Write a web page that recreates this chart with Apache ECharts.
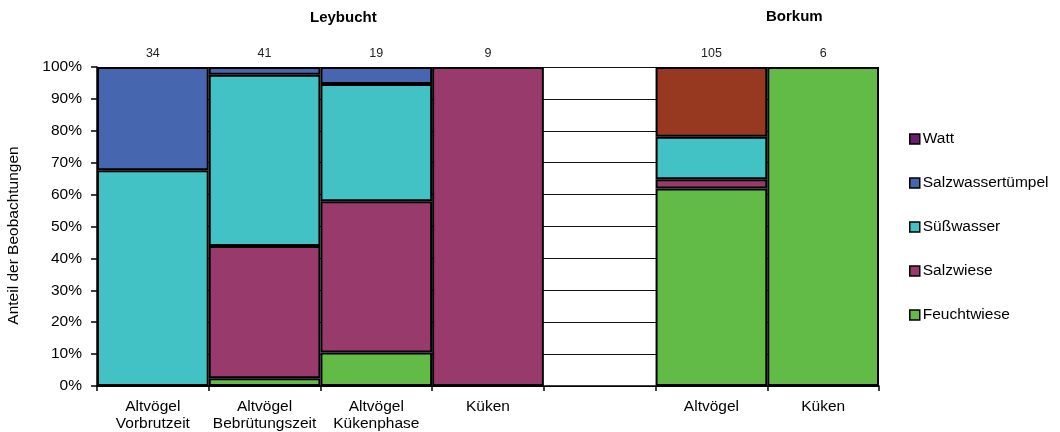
<!DOCTYPE html>
<html>
<head>
<meta charset="utf-8">
<script src="https://cdn.jsdelivr.net/npm/echarts@6/dist/echarts.min.js"></script>
<style>
  html, body { margin: 0; padding: 0; background: #fff; }
  #chart { width: 1060px; height: 432px; }
</style>
</head>
<body>
<div id="chart"></div>
<script>
// Habitat use per group, share of observations (%)
const categories = ['Altvögel\nVorbrutzeit', 'Altvögel\nBebrütungszeit', 'Altvögel\nKükenphase', 'Küken', '', 'Altvögel', 'Küken'];
const sampleSizes = ['34', '41', '19', '9', '', '105', '6'];

const feuchtwiese       = [0,    2.4,  10.5, 0,   0, 61.9, 100];
const salzwiese         = [0,    41.5, 47.4, 100, 0, 2.9,  0];
const suesswasser       = [67.6, 53.7, 36.8, 0,   0, 13.3, 0];
const salzwassertuempel = [32.4, 2.4,  5.3,  0,   0, 0,    0];
const watt              = [0,    0,    0,    0,   0, 21.9, 0];

const yTicks = [0, 10, 20, 30, 40, 50, 60, 70, 80, 90, 100];

const FONT = '"Liberation Sans", Arial, sans-serif';

const seriesDefs = [
  { name: 'Feuchtwiese',       data: feuchtwiese,       color: '#62BB47' },
  { name: 'Salzwiese',         data: salzwiese,         color: '#983A6C' },
  { name: 'Süßwasser',         data: suesswasser,       color: '#42C2C4' },
  { name: 'Salzwassertümpel',  data: salzwassertuempel, color: '#4766B0' },
  { name: 'Watt',              data: watt,              color: '#973820' }
];

const chart = echarts.init(document.getElementById('chart'), null, { renderer: 'canvas' });

chart.setOption({
  animation: false,
  backgroundColor: '#fff',
  textStyle: { fontFamily: FONT },
  grid: { left: 97, right: 181, top: 67, bottom: 46, outerBoundsMode: 'none', containLabel: false },
  graphic: [
    { type: 'text', left: 310, top: 10, style: { text: 'Leybucht', font: 'bold 15px ' + FONT, fill: '#000', textAlign: 'center' } },
    { type: 'text', left: 766, top: 9, style: { text: 'Borkum', font: 'bold 15px ' + FONT, fill: '#000', textAlign: 'center' } }
  ],
  legend: {
    orient: 'vertical',
    left: 909,
    top: 131,
    padding: 0,
    itemWidth: 10,
    itemHeight: 10,
    itemGap: 28,
    icon: 'rect',
    textStyle: { fontFamily: FONT, fontSize: 15.5, lineHeight: 16, color: '#000', padding: [0, 0, 0, -2] },
    itemStyle: { borderColor: '#000', borderWidth: 1.5 },
    data: [
      { name: 'Watt', itemStyle: { color: '#6A1E70' } },
      { name: 'Salzwassertümpel' },
      { name: 'Süßwasser' },
      { name: 'Salzwiese' },
      { name: 'Feuchtwiese' }
    ]
  },
  xAxis: [
    {
      type: 'category',
      data: categories,
      position: 'bottom',
      axisLine: { lineStyle: { color: '#000', width: 1.5 } },
      axisTick: { show: true, length: 5, lineStyle: { color: '#000', width: 1.5 } },
      axisLabel: { fontFamily: FONT, fontSize: 15.5, color: '#000', lineHeight: 17, margin: 12, interval: 0 },
      splitLine: { show: false }
    },
    {
      type: 'category',
      data: sampleSizes,
      position: 'top',
      axisLine: { show: false },
      axisTick: { show: false },
      axisLabel: { fontFamily: FONT, fontSize: 12.5, color: '#222', margin: 7, interval: 0 }
    }
  ],
  yAxis: {
    type: 'value',
    min: yTicks[0],
    max: yTicks[yTicks.length - 1],
    interval: yTicks[1] - yTicks[0],
    name: 'Anteil der Beobachtungen',
    nameLocation: 'middle',
    nameGap: 75,
    nameTextStyle: { fontFamily: FONT, fontSize: 15.5, color: '#000', padding: [0, 18, 0, 0] },
    axisLine: { show: true, lineStyle: { color: '#000', width: 1.5 } },
    axisTick: { show: true, length: 6, lineStyle: { color: '#000', width: 1.5 } },
    axisLabel: { fontFamily: FONT, fontSize: 15.5, color: '#000', margin: 15, formatter: '{value}%' },
    splitLine: { show: true, lineStyle: { color: '#111', width: 1.2 } }
  },
  series: seriesDefs.map(s => ({
    name: s.name,
    type: 'bar',
    stack: 'habitat',
    xAxisIndex: 0,
    barCategoryGap: '0%',
    barGap: '0%',
    itemStyle: { color: s.color, borderColor: '#000', borderWidth: 2 },
    emphasis: { disabled: true },
    data: s.data.map(v => (v === 0 ? '-' : v))
  }))
});
</script>
</body>
</html>
